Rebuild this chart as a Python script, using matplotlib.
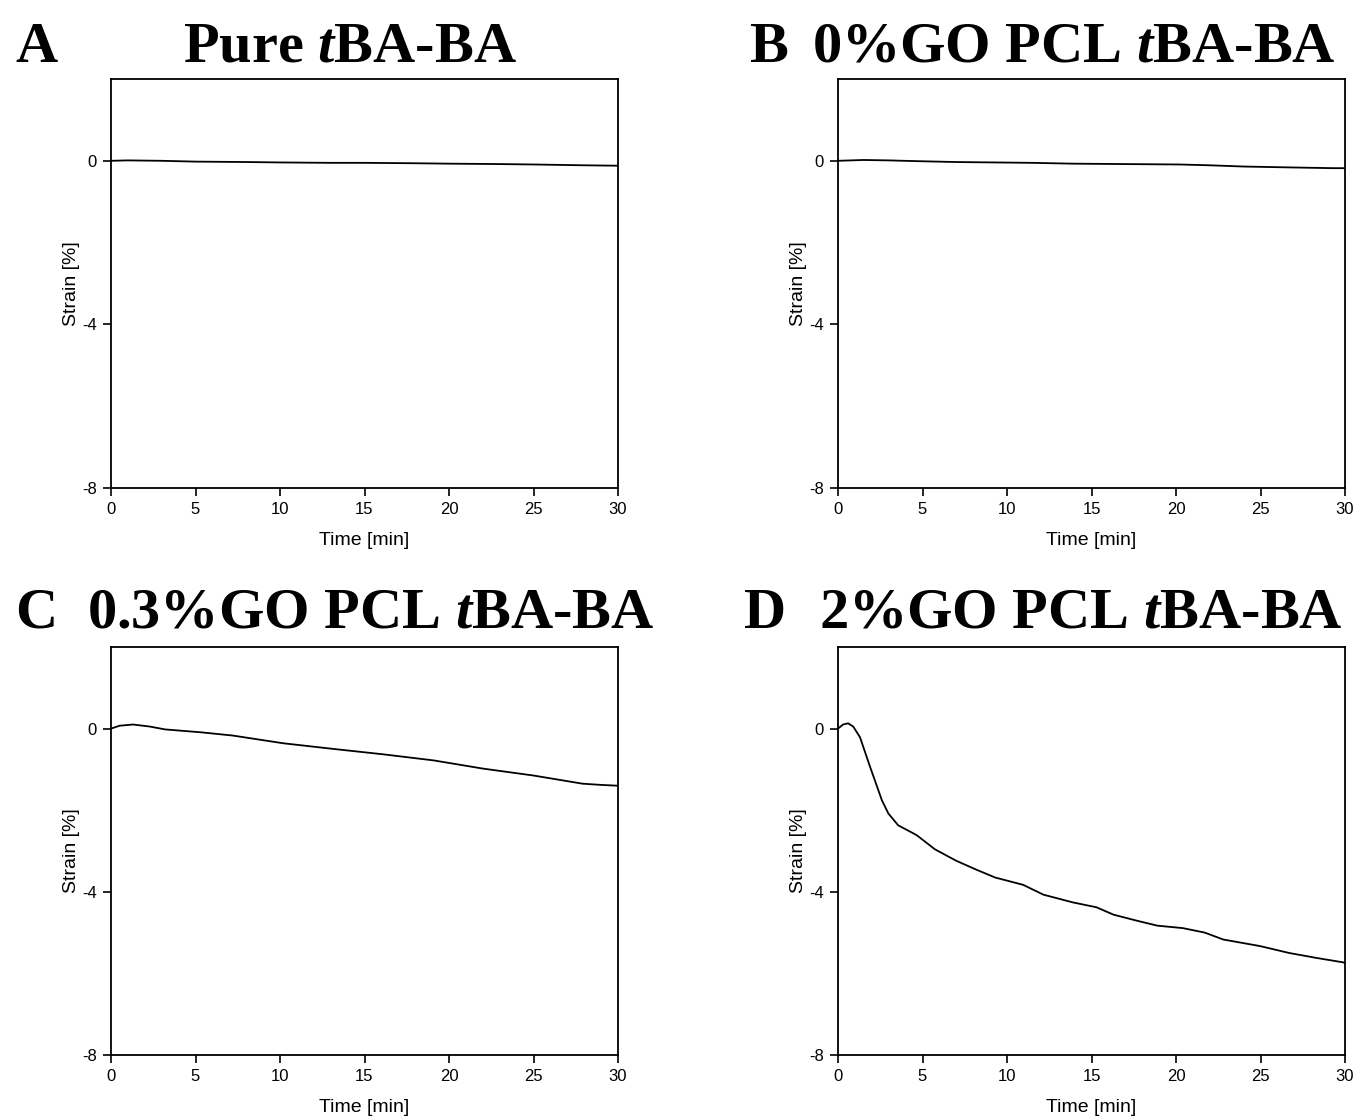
import matplotlib
matplotlib.use("Agg")
import matplotlib.pyplot as plt
import numpy as np

# ---- data ----
t_A = [0, 1, 3, 5, 8, 10, 13, 15, 18, 20, 23, 25, 28, 30]
s_A = [0, 0.01, 0.0, -0.02, -0.03, -0.04, -0.05, -0.05, -0.06, -0.07, -0.08, -0.09, -0.11, -0.12]

t_B = [0, 1.5, 3, 4.8, 7, 9.2, 11.5, 13.9, 17, 20.2, 22, 24, 26.5, 29.3, 30]
s_B = [0, 0.02, 0.01, -0.01, -0.03, -0.04, -0.05, -0.07, -0.08, -0.09, -0.11, -0.14, -0.16, -0.18, -0.18]

t_C = [0, 0.5, 1.3, 2.3, 3.2, 5.3, 7.2, 10.2, 13.2, 16.1, 19.1, 22.0, 25.0, 27.9, 29.0, 30]
s_C = [0, 0.07, 0.10, 0.05, -0.02, -0.09, -0.17, -0.36, -0.50, -0.63, -0.78, -0.98, -1.15, -1.35, -1.38, -1.40]

t_D = [0, 0.3, 0.6, 0.9, 1.3, 1.9, 2.6, 2.98, 3.56, 4.65, 5.74, 7.0, 8.2, 9.3, 10.96,
       12.15, 13.9, 15.3, 16.3, 17.7, 18.9, 20.4, 21.7, 22.8, 24.97, 26.7, 28.3, 29.9, 30]
s_D = [0, 0.1, 0.13, 0.05, -0.21, -0.94, -1.76, -2.08, -2.37, -2.61, -2.96, -3.24, -3.46, -3.65, -3.83,
       -4.07, -4.26, -4.38, -4.56, -4.71, -4.83, -4.89, -5.0, -5.17, -5.33, -5.50, -5.62, -5.73, -5.75]

letters = ["A", "B", "C", "D"]
titles = [r"Pure $\mathbfit{t}$BA-BA", r"0%GO PCL $\mathbfit{t}$BA-BA",
          r"0.3%GO PCL $\mathbfit{t}$BA-BA", r"2%GO PCL $\mathbfit{t}$BA-BA"]
series = [(t_A, s_A), (t_B, s_B), (t_C, s_C), (t_D, s_D)]
xticks = [0, 5, 10, 15, 20, 25, 30]
yticks = [0, -4, -8]

plt.rcParams['mathtext.fontset'] = 'custom'
plt.rcParams['mathtext.bfit'] = 'Liberation Serif:bold:italic'
plt.rcParams['mathtext.rm'] = 'Liberation Serif:bold'
plt.rcParams['axes.unicode_minus'] = False

W, H = 1354, 1118
fig = plt.figure(figsize=(W / 100, H / 100), dpi=100)

# axes positions in pixels: (left, top, right, bottom)
boxes = [(111, 79, 618, 488), (838, 79, 1345, 488),
         (111, 647, 618, 1055), (838, 647, 1345, 1055)]
letter_pos = [(36, 42), (768, 42), (36, 608), (765, 608)]
title_pos = [(350, 42), (1074, 42), (371, 608), (1081, 608)]

for i, (l, t, r, b) in enumerate(boxes):
    ax = fig.add_axes([l / W, 1 - b / H, (r - l) / W, (b - t) / H])
    x, y = series[i]
    ax.plot(x, y, color="black", lw=1.3)
    ax.set_xlim(0, 30)
    ax.set_ylim(-8, 2)
    ax.set_xticks(xticks)
    ax.set_yticks(yticks)
    ax.tick_params(direction="out", length=6, width=1.2, labelsize=12,
                   top=False, right=False, pad=4)
    for lab in ax.get_xticklabels() + ax.get_yticklabels():
        lab.set_family("Liberation Sans")
    for sp in ax.spines.values():
        sp.set_linewidth(1.3)
    ax.set_xlabel("Time [min]", family="Liberation Sans", fontsize=14, labelpad=11)
    ax.set_ylabel("Strain [%]", family="Liberation Sans", fontsize=14, labelpad=2)
    lx, ly = letter_pos[i]
    fig.text(lx / W, 1 - ly / H, letters[i], family="Liberation Serif",
             fontweight="bold", fontsize=42, ha="center", va="center_baseline")
    tx, ty = title_pos[i]
    fig.text(tx / W, 1 - ty / H, titles[i], family="Liberation Serif",
             fontweight="bold", fontsize=42, ha="center", va="center_baseline")

fig.savefig("out.png", dpi=100)
